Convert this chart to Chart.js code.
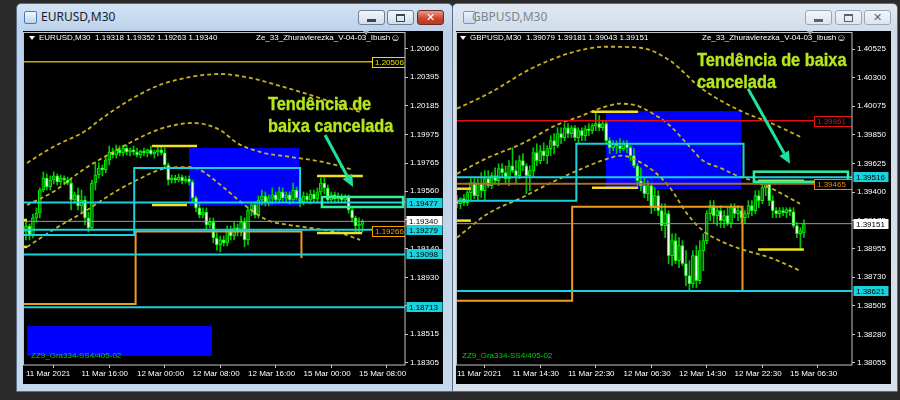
<!DOCTYPE html>
<html>
<head>
<meta charset="utf-8">
<script src="https://cdn.jsdelivr.net/npm/chart.js@4.4.1/dist/chart.umd.min.js"></script>
<style>
html,body{margin:0;padding:0}
body{width:900px;height:400px;background:#2a2a2a;position:relative;overflow:hidden;font-family:"Liberation Sans",Arial,sans-serif}
.win{position:absolute;top:3px;height:389px;box-sizing:border-box;border:1px solid #5b6d84;border-radius:5px 5px 0 0}
#winL{left:16px;width:437px;background:linear-gradient(to bottom,#d3e3f4 0,#bcd2ea 27px,#c5d8ed 100%)}
#winR{left:452px;width:446px;background:linear-gradient(to bottom,#e1e9f2 0,#d1dde9 27px,#d8e2ed 100%)}
.panel{position:absolute;top:31px;height:353px;background:#000}
.ttl{position:absolute;top:9px;font:12px "Noto Sans","Open Sans",sans-serif;line-height:16px;white-space:nowrap}
.icon{position:absolute;top:11px;width:11px;height:11px;border:1px solid #4a78b8;background:linear-gradient(#f4f8fd,#bcd3ee);border-radius:2px}
.btn{position:absolute;top:10px;height:15px;box-sizing:border-box;border:1px solid #6d7e95;border-radius:3px;background:linear-gradient(#f3f7fb,#d2deea)}
.btn.cls{background:linear-gradient(#e79a88,#c8432f 60%,#b73a28);border-color:#6f2a20}
.btn.in{border-color:#9aa8ba;background:linear-gradient(#f1f5f9,#dde6ef)}
.gl{position:absolute}
.hdr{position:absolute;top:33px;font-size:8px;line-height:10px;color:#fff;white-space:nowrap;z-index:3}
.note{position:absolute;font-weight:bold;font-size:19px;line-height:20px;color:#b5e61d;white-space:nowrap;z-index:3;transform:scaleX(0.86);transform-origin:0 0;-webkit-text-stroke:0.4px #b5e61d}
.zz{position:absolute;top:351px;font-size:8px;line-height:10px;color:#00d000;white-space:nowrap;z-index:3}
.tri{position:absolute;top:31px;width:0;height:0;border-left:3px solid transparent;border-right:3px solid transparent;border-top:4px solid #9aa6b4;z-index:3}
.dtri{position:absolute;top:36px;width:0;height:0;border-left:3px solid transparent;border-right:3px solid transparent;border-top:4px solid #fff;z-index:3}
canvas{position:absolute;top:31px}
</style>
</head>
<body>
<div class="win" id="winL"></div>
<div class="win" id="winR"></div>

<div class="icon" style="left:24px"></div>
<div class="ttl" style="left:41px;color:#14202e">EURUSD,M30</div>
<div class="btn" style="left:358px;width:27px"><div class="gl" style="left:8px;top:8px;width:9px;height:3px;background:#3a4656"></div></div>
<div class="btn" style="left:387px;width:27px"><div class="gl" style="left:8px;top:3px;width:7px;height:5px;border:1px solid #3a4656;border-top-width:2px"></div></div>
<div class="btn cls" style="left:417px;width:27px"><div class="gl" style="left:0;top:0;width:25px;line-height:13px;text-align:center;color:#fff;font:bold 11px 'DejaVu Sans',sans-serif">✕</div></div>

<div class="icon" style="left:463px;opacity:.7"></div>
<div class="ttl" style="left:472px;color:#7c8590">GBPUSD,M30</div>
<div class="btn in" style="left:805px;width:27px"><div class="gl" style="left:8px;top:8px;width:9px;height:3px;background:#58626f"></div></div>
<div class="btn in" style="left:835px;width:27px"><div class="gl" style="left:8px;top:3px;width:7px;height:5px;border:1px solid #58626f;border-top-width:2px"></div></div>
<div class="btn in" style="left:864px;width:27px"><div class="gl" style="left:0;top:0;width:25px;line-height:13px;text-align:center;color:#58626f;font:bold 11px 'DejaVu Sans',sans-serif">✕</div></div>

<div class="panel" style="left:23px;width:420px"></div>
<div class="panel" style="left:456px;width:435px"></div>

<canvas id="cL" width="420" height="352" style="left:23px;width:420px;height:352px"></canvas>
<canvas id="cR" width="435" height="352" style="left:456px;width:435px;height:352px"></canvas>

<div class="dtri" style="left:29px"></div>
<div class="hdr" style="left:39px">EURUSD,M30&nbsp;&nbsp;1.19318 1.19352 1.19263 1.19340</div>
<div class="hdr" style="left:256px">Ze_33_Zhuravlerezka_V-04-03_Ibush<span style="font-size:10px;vertical-align:-1px">☺</span></div>
<div class="tri" style="left:363px"></div>
<div class="note" style="left:268px;top:94px">Tendência de</div>
<div class="note" style="left:268px;top:116px">baixa cancelada</div>
<div class="zz" style="left:31px">ZZ9_Gra334-SS4/405-02</div>

<div class="dtri" style="left:460px"></div>
<div class="hdr" style="left:470px">GBPUSD,M30&nbsp;&nbsp;1.39079 1.39181 1.39043 1.39151</div>
<div class="hdr" style="left:702px">Ze_33_Zhuravlerezka_V-04-03_Ibush<span style="font-size:10px;vertical-align:-1px">☺</span></div>
<div class="tri" style="left:807px"></div>
<div class="note" style="left:697px;top:50px">Tendência de baixa</div>
<div class="note" style="left:697px;top:72px">cancelada</div>
<div class="zz" style="left:462px">ZZ9_Gra334-SS4/405-02</div>

<script>
// ================= EURUSD M30 =================
const eurTickIdx = [0, 16, 32, 48, 64, 80, 96];
const eurTickLabels = ['11 Mar 2021', '11 Mar 16:00', '12 Mar 00:00', '12 Mar 08:00', '12 Mar 16:00', '15 Mar 00:00', '15 Mar 08:00'];
const eurPriceTicks = [1.20600, 1.20395, 1.20185, 1.19975, 1.19765, 1.19560, 1.19350, 1.19140, 1.18930, 1.18725, 1.18515, 1.18305];

const eurOpen = [1.19262,1.19306,1.19233,1.19365,1.19401,1.19569,1.19657,1.19591,1.19642,1.19672,
1.19628,1.19657,1.19642,1.19620,1.19496,1.19533,1.19452,1.19496,1.19365,1.19292,
1.19620,1.19679,1.19730,1.19716,1.19789,1.19847,1.19825,1.19862,1.19840,1.19876,
1.19847,1.19862,1.19847,1.19825,1.19854,1.19840,1.19862,1.19832,1.19847,1.19862,
1.19840,1.19752,1.19642,1.19657,1.19642,1.19664,1.19635,1.19650,1.19628,1.19511,
1.19438,1.19387,1.19408,1.19313,1.19335,1.19218,1.19167,1.19204,1.19182,1.19277,
1.19233,1.19292,1.19262,1.19335,1.19204,1.19423,1.19460,1.19387,1.19496,1.19525,
1.19474,1.19511,1.19533,1.19496,1.19555,1.19511,1.19533,1.19496,1.19569,1.19511,
1.19482,1.19525,1.19496,1.19540,1.19504,1.19555,1.19620,1.19584,1.19496,1.19533,
1.19504,1.19525,1.19496,1.19518,1.19423,1.19365,1.19306,1.19318];
const eurHigh = [1.19335,1.19321,1.19394,1.19438,1.19584,1.19701,1.19686,1.19672,1.19701,1.19686,
1.19679,1.19672,1.19664,1.19657,1.19555,1.19584,1.19569,1.19525,1.19408,1.19642,
1.19767,1.19767,1.19752,1.19811,1.19891,1.19876,1.19898,1.19891,1.19898,1.19898,
1.19876,1.19891,1.19876,1.19862,1.19876,1.19869,1.19891,1.19862,1.19884,1.19891,
1.19876,1.19767,1.19679,1.19679,1.19686,1.19679,1.19672,1.19672,1.19642,1.19525,
1.19467,1.19438,1.19438,1.19365,1.19365,1.19255,1.19233,1.19233,1.19306,1.19306,
1.19335,1.19321,1.19379,1.19365,1.19445,1.19467,1.19482,1.19525,1.19569,1.19555,
1.19533,1.19584,1.19555,1.19591,1.19584,1.19555,1.19555,1.19620,1.19591,1.19569,
1.19555,1.19547,1.19569,1.19569,1.19584,1.19657,1.19657,1.19606,1.19555,1.19555,
1.19547,1.19540,1.19533,1.19533,1.19445,1.19379,1.19365,1.19352];
const eurLow = [1.19204,1.19204,1.19218,1.19335,1.19365,1.19555,1.19569,1.19569,1.19613,1.19606,
1.19606,1.19620,1.19606,1.19423,1.19474,1.19423,1.19408,1.19313,1.19262,1.19277,
1.19569,1.19657,1.19672,1.19694,1.19752,1.19803,1.19803,1.19818,1.19818,1.19825,
1.19818,1.19825,1.19811,1.19803,1.19818,1.19811,1.19825,1.19803,1.19818,1.19825,
1.19730,1.19606,1.19620,1.19620,1.19628,1.19613,1.19620,1.19606,1.19482,1.19408,
1.19365,1.19365,1.19277,1.19292,1.19182,1.19131,1.19116,1.19160,1.19160,1.19204,
1.19204,1.19233,1.19233,1.19153,1.19167,1.19379,1.19365,1.19365,1.19460,1.19452,
1.19452,1.19467,1.19474,1.19474,1.19482,1.19482,1.19467,1.19474,1.19496,1.19445,
1.19460,1.19474,1.19467,1.19482,1.19474,1.19533,1.19540,1.19474,1.19474,1.19474,
1.19482,1.19474,1.19474,1.19401,1.19335,1.19262,1.19262,1.19263];
const eurClose = [1.19306,1.19233,1.19365,1.19401,1.19569,1.19657,1.19591,1.19642,1.19672,1.19628,
1.19657,1.19642,1.19620,1.19496,1.19533,1.19452,1.19496,1.19365,1.19292,1.19620,
1.19679,1.19730,1.19716,1.19789,1.19847,1.19825,1.19862,1.19840,1.19876,1.19847,
1.19862,1.19847,1.19825,1.19854,1.19840,1.19862,1.19832,1.19847,1.19862,1.19840,
1.19752,1.19642,1.19657,1.19642,1.19664,1.19635,1.19650,1.19628,1.19511,1.19438,
1.19387,1.19408,1.19313,1.19335,1.19218,1.19167,1.19204,1.19182,1.19277,1.19233,
1.19292,1.19262,1.19335,1.19204,1.19423,1.19460,1.19387,1.19496,1.19525,1.19474,
1.19511,1.19533,1.19496,1.19555,1.19511,1.19533,1.19496,1.19569,1.19511,1.19482,
1.19525,1.19496,1.19540,1.19504,1.19555,1.19620,1.19584,1.19496,1.19533,1.19504,
1.19525,1.19496,1.19518,1.19423,1.19365,1.19306,1.19318,1.19340];

// indicator curves (bar index, price)
const eurUpperX = [0.3, 7.8, 17.6, 20.5, 29.9, 38.6, 47.3, 55.9, 64.6, 73.2, 81.9, 90.5, 96.3];
const eurUpperY = [1.19767, 1.19884, 1.20008, 1.20066, 1.20227, 1.20337, 1.20395, 1.20417, 1.20388, 1.20330, 1.20264, 1.20191, 1.20139];
const eurMidX = [0.3, 7.8, 16.4, 25.1, 35.7, 40.6, 48.1, 55.9, 60.8, 67.5, 76.1, 85.6, 94.3];
const eurMidY = [1.19460, 1.19555, 1.19716, 1.19847, 1.19986, 1.20030, 1.20059, 1.20008, 1.19913, 1.19847, 1.19811, 1.19774, 1.19716];
const eurLowerX = [0.3, 7.8, 17.6, 25.1, 32.0, 40.6, 47.3, 50.2, 56.8, 63.7, 69.5, 76.1, 81.9, 90.5, 96.3];
const eurLowerY = [1.19153, 1.19277, 1.19423, 1.19547, 1.19642, 1.19730, 1.19737, 1.19716, 1.19591, 1.19445, 1.19350, 1.19313, 1.19292, 1.19255, 1.19204];

const eurCyanLevels = [1.19477, 1.19279, 1.19098, 1.18713];
const eurBid = 1.19340;
const eurYellowLevel = 1.20506;
const eurCyanStepX = [-0.9, 31.2, 31.2, 79.0, 79.0];
const eurCyanStepY = [1.19241, 1.19241, 1.19730, 1.19730, 1.19477];
const eurOrangeStepX = [-0.9, 31.6, 31.6, 79.4, 79.4];
const eurOrangeStepY = [1.18736, 1.18736, 1.19266, 1.19266, 1.19072];
const eurOrangeLevel = 1.19266;
// [fromIdx, toIdx, price]
const eurYellowSegs = [[36.3, 49.3, 1.19891], [36.3, 46.4, 1.19460], [83.9, 97.1, 1.19672], [83.9, 96.9, 1.19255], [-0.9, 0.3, 1.19350], [-0.9, 0.3, 1.19153]];
// [fromIdx, toIdx, priceTop, priceBottom]
const eurBlueRects = [[47.0, 78.7, 1.19876, 1.19452], [0.3, 53.6, 1.18575, 1.18356]];
const eurGreenRect = [85.3, 108.7, 1.19518, 1.19445];
// [fromIdx, fromPrice, toIdx, toPrice]
const eurArrow = [86.2, 1.19971, 94.3, 1.19591];

// ================= GBPUSD M30 =================
const gbpTickIdx = [0, 16, 32, 48, 64, 80, 96];
const gbpTickLabels = ['11 Mar 2021', '11 Mar 14:30', '11 Mar 22:30', '12 Mar 06:30', '12 Mar 14:30', '12 Mar 22:30', '15 Mar 06:30'];
const gbpPriceTicks = [1.40525, 1.40300, 1.40075, 1.39850, 1.39625, 1.39400, 1.39175, 1.38955, 1.38730, 1.38505, 1.38280, 1.38055];

const gbpOpen = [1.39332,1.39308,1.39348,1.39316,1.39395,1.39474,1.39371,1.39466,1.39411,1.39505,
1.39450,1.39529,1.39489,1.39584,1.39552,1.39505,1.39607,1.39568,1.39529,1.39647,
1.39607,1.39529,1.39568,1.39710,1.39647,1.39725,1.39686,1.39741,1.39804,1.39765,
1.39859,1.39828,1.39906,1.39859,1.39906,1.39828,1.39883,1.39843,1.39898,1.39883,
1.39922,1.39938,1.39906,1.39938,1.39804,1.39749,1.39780,1.39765,1.39741,1.39780,
1.39749,1.39686,1.39607,1.39489,1.39450,1.39387,1.39450,1.39277,1.39371,1.39253,
1.39135,1.39230,1.38899,1.39017,1.38860,1.38978,1.38836,1.38742,1.38679,1.38899,
1.38703,1.38939,1.39017,1.39230,1.39293,1.39214,1.39253,1.39175,1.39214,1.39151,
1.39277,1.39230,1.39253,1.39198,1.39230,1.39293,1.39253,1.39371,1.39332,1.39434,
1.39466,1.39332,1.39253,1.39230,1.39253,1.39238,1.39261,1.39245,1.39135,1.39072,
1.39079];
const gbpHigh = [1.39371,1.39356,1.39379,1.39411,1.39505,1.39505,1.39505,1.39552,1.39568,1.39568,
1.39552,1.39591,1.39623,1.39623,1.39607,1.39647,1.39749,1.39647,1.39686,1.39702,
1.39623,1.39607,1.39749,1.39780,1.39765,1.39788,1.39765,1.39843,1.39859,1.39906,
1.39906,1.39938,1.39938,1.39922,1.39922,1.39906,1.39906,1.39922,1.39938,1.39938,
1.40024,1.40001,1.39961,1.39961,1.39828,1.39804,1.39804,1.39820,1.39804,1.39804,
1.39765,1.39741,1.39623,1.39591,1.39513,1.39489,1.39466,1.39434,1.39411,1.39308,
1.39308,1.39253,1.39072,1.39072,1.39041,1.39017,1.38939,1.38860,1.38939,1.38978,
1.39017,1.39072,1.39253,1.39332,1.39332,1.39277,1.39293,1.39253,1.39277,1.39308,
1.39308,1.39293,1.39277,1.39253,1.39332,1.39332,1.39411,1.39411,1.39466,1.39489,
1.39489,1.39371,1.39277,1.39277,1.39277,1.39277,1.39277,1.39277,1.39159,1.39120,
1.39181];
const gbpLow = [1.39277,1.39269,1.39293,1.39293,1.39332,1.39348,1.39332,1.39356,1.39332,1.39434,
1.39426,1.39466,1.39450,1.39513,1.39466,1.39450,1.39552,1.39466,1.39505,1.39568,
1.39387,1.39411,1.39513,1.39607,1.39623,1.39647,1.39623,1.39686,1.39702,1.39749,
1.39780,1.39804,1.39828,1.39828,1.39804,1.39780,1.39804,1.39804,1.39843,1.39859,
1.39883,1.39883,1.39883,1.39780,1.39702,1.39725,1.39702,1.39710,1.39725,1.39710,
1.39647,1.39591,1.39450,1.39411,1.39356,1.39332,1.39230,1.39253,1.39214,1.39096,
1.39041,1.38836,1.38820,1.38836,1.38805,1.38820,1.38663,1.38624,1.38648,1.38648,
1.38679,1.38781,1.38994,1.39175,1.39151,1.39135,1.39120,1.39120,1.39135,1.39120,
1.39198,1.39175,1.39151,1.39151,1.39198,1.39214,1.39230,1.39277,1.39308,1.39371,
1.39293,1.39198,1.39198,1.39198,1.39214,1.39198,1.39214,1.39120,1.39041,1.38939,
1.39043];
const gbpClose = [1.39308,1.39348,1.39316,1.39395,1.39474,1.39371,1.39466,1.39411,1.39505,1.39450,
1.39529,1.39489,1.39584,1.39552,1.39505,1.39607,1.39568,1.39529,1.39647,1.39607,
1.39529,1.39568,1.39710,1.39647,1.39725,1.39686,1.39741,1.39804,1.39765,1.39859,
1.39828,1.39906,1.39859,1.39906,1.39828,1.39883,1.39843,1.39898,1.39883,1.39922,
1.39938,1.39906,1.39938,1.39804,1.39749,1.39780,1.39765,1.39741,1.39780,1.39749,
1.39686,1.39607,1.39489,1.39450,1.39387,1.39450,1.39277,1.39371,1.39253,1.39135,
1.39230,1.38899,1.39017,1.38860,1.38978,1.38836,1.38742,1.38679,1.38899,1.38703,
1.38939,1.39017,1.39230,1.39293,1.39214,1.39253,1.39175,1.39214,1.39151,1.39277,
1.39230,1.39253,1.39198,1.39230,1.39293,1.39253,1.39371,1.39332,1.39434,1.39466,
1.39332,1.39253,1.39230,1.39253,1.39238,1.39261,1.39245,1.39135,1.39072,1.39096,
1.39151];

const gbpUpperX = [0, 9.5, 21.3, 32.9, 42.7, 52.8, 61.4, 70.6, 81.6, 90.2, 99.5];
const gbpUpperY = [1.40056, 1.40181, 1.40370, 1.40496, 1.40543, 1.40535, 1.40433, 1.40213, 1.40040, 1.39946, 1.39828];
const gbpMidX = [0, 8.9, 18.7, 28.3, 36.0, 41.8, 47.0, 51.9, 56.5, 61.4, 66.3, 70.9, 75.8, 80.7, 85.3, 90.2, 98.9];
const gbpMidY = [1.39544, 1.39670, 1.39780, 1.39922, 1.40001, 1.40063, 1.40095, 1.40079, 1.40016, 1.39922, 1.39780, 1.39647, 1.39591, 1.39529, 1.39489, 1.39434, 1.39308];
const gbpLowerX = [0, 8.9, 18.7, 28.3, 36.0, 41.8, 47.6, 51.9, 56.5, 61.4, 66.3, 70.9, 75.8, 80.7, 85.3, 90.2, 98.9];
const gbpLowerY = [1.39041, 1.39230, 1.39356, 1.39489, 1.39584, 1.39647, 1.39686, 1.39647, 1.39568, 1.39434, 1.39230, 1.39096, 1.39017, 1.38962, 1.38923, 1.38884, 1.38781];

const gbpCyanLevels = [1.39516, 1.38621];
const gbpBid = 1.39151;
const gbpRedLevel = 1.39961;
const gbpBrownLevel = 1.39465;
const gbpCyanStepX = [-0.3, 34.4, 34.4, 82.6, 82.6];
const gbpCyanStepY = [1.39332, 1.39332, 1.39780, 1.39780, 1.39516];
const gbpOrangeStepX = [-0.3, 33.2, 33.2, 82.3, 82.3];
const gbpOrangeStepY = [1.38545, 1.38545, 1.39285, 1.39285, 1.38621];
const gbpYellowSegs = [[38.9, 52.2, 1.40032], [38.9, 52.2, 1.39434], [86.8, 100.0, 1.39489], [86.8, 100.0, 1.38947], [-0.3, 4.0, 1.39426], [-0.3, 4.0, 1.39175]];
const gbpBlueRects = [[42.9, 81.9, 1.40040, 1.39426]];
const gbpGreenRect = [85.6, 112.7, 1.39560, 1.39481];
const gbpArrow = [83.9, 1.40213, 96.0, 1.39623];

// ================= drawing =================
const FONT = '"Liberation Sans", Arial, sans-serif';
Chart.defaults.font.family = FONT;
Chart.defaults.font.size = 8;

const C = {
  cyan: '#19d2de', bid: '#9a9a9a', dash: '#c8b21e', seg: '#f2e21e', orange: '#f09a22',
  brown: '#a86f26', red: '#e21010', yellowLvl: '#c2b000', blue: '#0000ff', green: '#2df0a0',
  arrow: '#1ee39c', wick: '#00c800', border: '#00f000', bear: '#f0fff0', bull: '#007000', frame: '#c4c4c4'
};

function makePlugin(s) {
  return {
    id: 'mt4' + s.id,
    beforeDatasetsDraw(chart) {
      const {ctx, chartArea: a, scales: {x, y}} = chart;
      ctx.save();
      ctx.beginPath(); ctx.rect(a.left, a.top, a.width, a.height); ctx.clip();
      ctx.fillStyle = C.blue;
      s.blueRects.forEach(r => {
        const x1 = Math.round(x.getPixelForValue(r[0])), x2 = Math.round(x.getPixelForValue(r[1]));
        const y1 = Math.round(y.getPixelForValue(r[2])), y2 = Math.round(y.getPixelForValue(r[3]));
        ctx.fillRect(x1, y1, x2 - x1, y2 - y1);
      });
      ctx.restore();
    },
    afterDatasetsDraw(chart) {
      const {ctx, chartArea: a, scales: {x, y}} = chart;
      ctx.save();
      ctx.beginPath(); ctx.rect(a.left, a.top, a.width, a.height); ctx.clip();
      const g = s.greenRect;
      const gx1 = x.getPixelForValue(g[0]), gx2 = x.getPixelForValue(g[1]);
      const gy1 = y.getPixelForValue(g[2]), gy2 = y.getPixelForValue(g[3]);
      ctx.strokeStyle = C.green; ctx.lineWidth = 2.5;
      ctx.strokeRect(gx1, gy1, gx2 - gx1, gy2 - gy1);
      const r = s.arrow;
      const x1 = x.getPixelForValue(r[0]), y1 = y.getPixelForValue(r[1]);
      const x2 = x.getPixelForValue(r[2]), y2 = y.getPixelForValue(r[3]);
      const ang = Math.atan2(y2 - y1, x2 - x1), L = 12, W = 5.5;
      const bx = x2 - L * Math.cos(ang), by = y2 - L * Math.sin(ang);
      ctx.strokeStyle = C.arrow; ctx.fillStyle = C.arrow; ctx.lineWidth = 3;
      ctx.beginPath(); ctx.moveTo(x1, y1); ctx.lineTo(bx, by); ctx.stroke();
      ctx.beginPath(); ctx.moveTo(x2, y2);
      ctx.lineTo(bx + W * Math.sin(ang), by - W * Math.cos(ang));
      ctx.lineTo(bx - W * Math.sin(ang), by + W * Math.cos(ang));
      ctx.closePath(); ctx.fill();
      ctx.font = '8px ' + FONT; ctx.textBaseline = 'middle';
      s.plotTags.forEach(t => {
        const py = Math.round(y.getPixelForValue(t.p)) + 0.5;
        const left = a.right - t.w;
        ctx.fillStyle = '#000'; ctx.fillRect(left, py - 5.5, t.w, 11);
        ctx.strokeStyle = t.c; ctx.lineWidth = 1; ctx.strokeRect(left + 0.5, py - 5, t.w, 10);
        ctx.fillStyle = t.c; ctx.fillText(t.p.toFixed(5), left + 3, py + 0.5);
      });
      ctx.restore();
    },
    afterDraw(chart) {
      const {ctx, chartArea: a, scales: {y}} = chart;
      ctx.save();
      ctx.strokeStyle = C.frame; ctx.lineWidth = 1;
      ctx.strokeRect(a.left + 0.5, a.top + 0.5, a.width - 0.5, a.height - 0.5);
      ctx.font = '8px ' + FONT; ctx.textBaseline = 'middle';
      s.axisTags.forEach(t => {
        const py = Math.round(y.getPixelForValue(t.p));
        ctx.fillStyle = t.bg; ctx.fillRect(a.right + 1.5, py - 5, s.tagW, 10);
        ctx.fillStyle = '#000'; ctx.fillText(t.p.toFixed(5), a.right + 4, py + 0.5);
      });
      ctx.restore();
    }
  };
}

function buildChart(canvasId, s) {
  const idx = s.close.map((_, i) => i);
  const wicks = idx.map(i => ({x: i, y: [s.low[i], s.high[i]]}));
  const bodies = idx.map(i => ({x: i, y: [s.open[i], s.close[i]]}));
  const fills = idx.map(i => s.close[i] < s.open[i] ? C.bear : C.bull);
  const pts = (xs, ys) => xs.map((v, i) => ({x: v, y: ys[i]}));
  const full = p => [{x: s.xMin, y: p}, {x: s.xMax, y: p}];
  const line = (data, color, width, order, extra) => Object.assign({
    type: 'line', data, borderColor: color, borderWidth: width, pointRadius: 0,
    pointHoverRadius: 0, fill: false, tension: 0, order
  }, extra || {});

  const ds = [];
  ds.push({type: 'bar', data: wicks, backgroundColor: C.wick, barThickness: 1, grouped: false, order: 30});
  ds.push({type: 'bar', data: bodies, backgroundColor: fills, borderColor: C.border, borderWidth: 1,
           borderSkipped: false, barThickness: 3, grouped: false, minBarLength: 1, order: 29});
  s.curves.forEach(c => ds.push(line(pts(c[0], c[1]), C.dash, 1.8, 20,
    {borderDash: [4, 3], tension: 0.4, cubicInterpolationMode: 'monotone'})));
  s.extraLevels.forEach(l => ds.push(line(full(l.p), l.c, l.w, 12)));
  ds.push(line(pts(s.orangeStep[0], s.orangeStep[1]), C.orange, 2, 10));
  ds.push(line(pts(s.cyanStep[0], s.cyanStep[1]), C.cyan, 2, 9));
  s.cyanLevels.forEach(p => ds.push(line(full(p), C.cyan, 2, 8)));
  ds.push(line(full(s.bid), C.bid, 1, 7));
  s.yellowSegs.forEach(g => ds.push(line([{x: g[0], y: g[2]}, {x: g[1], y: g[2]}], C.seg, 2.5, 6)));

  return new Chart(document.getElementById(canvasId), {
    type: 'bar',
    data: {datasets: ds},
    options: {
      responsive: false, animation: false, events: [],
      layout: {padding: {top: 1, left: 0, right: 0, bottom: 0}},
      plugins: {legend: {display: false}, tooltip: {enabled: false}},
      scales: {
        x: {
          type: 'linear', min: s.xMin, max: s.xMax, offset: false,
          afterBuildTicks: sc => { sc.ticks = s.tickIdx.map(v => ({value: v})); },
          afterFit: sc => { sc.height = 18; sc.paddingLeft = 0; sc.paddingRight = 0; },
          grid: {drawOnChartArea: false, drawTicks: true, tickLength: 3, color: C.frame},
          border: {display: false},
          ticks: {autoSkip: false, maxRotation: 0, minRotation: 0, align: 'start', color: '#ffffff',
                  padding: 1, font: {size: 8}, callback: (v, i) => s.tickLabels[i]}
        },
        y: {
          type: 'linear', position: 'right', min: s.yMin, max: s.yMax,
          afterBuildTicks: sc => { sc.ticks = s.priceTicks.map(v => ({value: v})); },
          afterFit: sc => { sc.width = s.yAxisW; sc.paddingTop = 0; sc.paddingBottom = 0; },
          grid: {drawOnChartArea: false, drawTicks: true, tickLength: 3, color: C.frame},
          border: {display: false},
          ticks: {autoSkip: false, color: '#ffffff', padding: 2, font: {size: 8},
                  callback: v => Number(v).toFixed(5)}
        }
      }
    },
    plugins: [makePlugin(s)]
  });
}

buildChart('cL', {
  id: 'L', xMin: -0.86, xMax: 109.25, yMin: 1.18290, yMax: 1.20724, yAxisW: 38, tagW: 36,
  open: eurOpen, high: eurHigh, low: eurLow, close: eurClose,
  tickIdx: eurTickIdx, tickLabels: eurTickLabels, priceTicks: eurPriceTicks,
  curves: [[eurUpperX, eurUpperY], [eurMidX, eurMidY], [eurLowerX, eurLowerY]],
  extraLevels: [{p: eurYellowLevel, c: C.yellowLvl, w: 1.5}],
  cyanLevels: eurCyanLevels, bid: eurBid,
  cyanStep: [eurCyanStepX, eurCyanStepY], orangeStep: [eurOrangeStepX, eurOrangeStepY],
  yellowSegs: eurYellowSegs, blueRects: eurBlueRects, greenRect: eurGreenRect, arrow: eurArrow,
  plotTags: [{p: eurYellowLevel, c: '#ece000', w: 33}, {p: eurOrangeLevel, c: '#f0a000', w: 33}],
  axisTags: [{p: eurBid, bg: '#ffffff'}].concat(eurCyanLevels.map(p => ({p, bg: C.cyan})))
});

buildChart('cR', {
  id: 'R', xMin: -0.29, xMax: 113.87, yMin: 1.38039, yMax: 1.40659, yAxisW: 39, tagW: 35,
  open: gbpOpen, high: gbpHigh, low: gbpLow, close: gbpClose,
  tickIdx: gbpTickIdx, tickLabels: gbpTickLabels, priceTicks: gbpPriceTicks,
  curves: [[gbpUpperX, gbpUpperY], [gbpMidX, gbpMidY], [gbpLowerX, gbpLowerY]],
  extraLevels: [{p: gbpRedLevel, c: C.red, w: 1.5}, {p: gbpBrownLevel, c: C.brown, w: 2}],
  cyanLevels: gbpCyanLevels, bid: gbpBid,
  cyanStep: [gbpCyanStepX, gbpCyanStepY], orangeStep: [gbpOrangeStepX, gbpOrangeStepY],
  yellowSegs: gbpYellowSegs, blueRects: gbpBlueRects, greenRect: gbpGreenRect, arrow: gbpArrow,
  plotTags: [{p: gbpRedLevel, c: '#e81010', w: 38}, {p: gbpBrownLevel, c: '#e08a10', w: 38}],
  axisTags: [{p: gbpBid, bg: '#ffffff'}].concat(gbpCyanLevels.map(p => ({p, bg: C.cyan})))
});
</script>
</body>
</html>
